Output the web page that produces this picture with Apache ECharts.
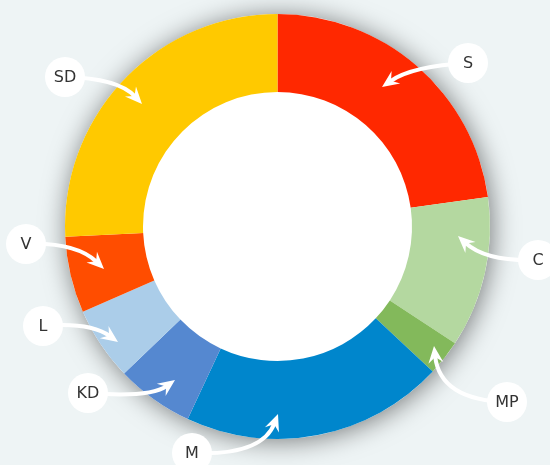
<!DOCTYPE html>
<html>
<head>
  <meta charset="UTF-8">
  <title>party donut</title>
  <style>
    html, body { margin: 0; padding: 0; background: #eef4f5; }
    #main { width: 550px; height: 465px; }
  </style>
  <script src="https://cdn.jsdelivr.net/npm/echarts@6/dist/echarts.min.js"></script>
</head>
<body>
<div id="main"></div>
<script>
const parties = ['S', 'C', 'MP', 'M', 'KD', 'L', 'V', 'SD'];
const shares = [22.8, 11.5, 2.7, 20.0, 5.9, 5.6, 5.8, 25.8];

const partyColors = ['#ff2800', '#b4d8a0', '#83b95b', '#0086cc', '#5588d0', '#abcde9', '#ff4d00', '#ffc900'];

// callout bubbles + arrows (label centre, control point, arrow tip)
const callouts = [
  { name: 'S',  at: [468, 63],  ctrl: [412, 66],  tip: [382, 87] },
  { name: 'C',  at: [538, 260], ctrl: [486, 262], tip: [458, 236] },
  { name: 'MP', at: [507, 402], ctrl: [440, 400], tip: [434, 346] },
  { name: 'M',  at: [192, 453], ctrl: [262, 456], tip: [278, 414] },
  { name: 'KD', at: [88, 393],  ctrl: [150, 398], tip: [175, 380] },
  { name: 'L',  at: [43, 326],  ctrl: [90, 322],  tip: [118, 342] },
  { name: 'V',  at: [26, 244],  ctrl: [76, 242],  tip: [104, 269] },
  { name: 'SD', at: [65, 77],   ctrl: [118, 78],  tip: [142, 104] }
];

var chart = echarts.init(document.getElementById('main'));

function calloutGraphics() {
  var els = [];
  callouts.forEach(function (c) {
    var dx = c.tip[0] - c.ctrl[0], dy = c.tip[1] - c.ctrl[1];
    var len = Math.sqrt(dx * dx + dy * dy);
    var ux = dx / len, uy = dy / len;
    var px = -uy, py = ux;
    var headLen = 17, headW = 7.5, notch = 11;
    var endX = c.tip[0] - ux * (notch - 1), endY = c.tip[1] - uy * (notch - 1);
    els.push({
      type: 'bezierCurve',
      silent: true,
      z: 100,
      shape: { x1: c.at[0], y1: c.at[1], cpx1: c.ctrl[0], cpy1: c.ctrl[1], x2: endX, y2: endY },
      style: { stroke: '#fff', lineWidth: 4, fill: null }
    });
    var bx = c.tip[0] - ux * headLen, by = c.tip[1] - uy * headLen;
    els.push({
      type: 'polygon',
      silent: true,
      z: 100,
      shape: {
        points: [
          [c.tip[0], c.tip[1]],
          [bx + px * headW, by + py * headW],
          [c.tip[0] - ux * notch, c.tip[1] - uy * notch],
          [bx - px * headW, by - py * headW]
        ]
      },
      style: { fill: '#fff' }
    });
    els.push({
      type: 'circle',
      silent: true,
      z: 101,
      shape: { cx: c.at[0], cy: c.at[1], r: 20 },
      style: { fill: '#fff' }
    });
    els.push({
      type: 'text',
      silent: true,
      z: 102,
      x: c.at[0],
      y: c.at[1] + 1,
      style: {
        text: c.name,
        fill: '#333',
        font: '16px "DejaVu Sans", sans-serif',
        align: 'center',
        verticalAlign: 'middle'
      }
    });
  });
  return els;
}

var option = {
  backgroundColor: '#eef4f5',
  animation: false,
  series: [
    {
      // white disc carrying the drop shadow
      type: 'pie',
      silent: true,
      center: [277.5, 226.5],
      radius: [0, 212.5],
      label: { show: false },
      labelLine: { show: false },
      itemStyle: {
        color: '#fff',
        shadowBlur: 26,
        shadowColor: 'rgba(0, 0, 0, 0.5)',
        shadowOffsetX: 2,
        shadowOffsetY: 2
      },
      data: [{ value: 1, name: 'bg' }]
    },
    {
      type: 'pie',
      silent: true,
      center: [277.5, 226.5],
      radius: [134.5, 212.5],
      startAngle: 90,
      clockwise: true,
      avoidLabelOverlap: false,
      label: { show: false },
      labelLine: { show: false },
      itemStyle: { borderWidth: 0 },
      data: parties.map(function (p, i) {
        return { name: p, value: shares[i], itemStyle: { color: partyColors[i] } };
      })
    }
  ],
  graphic: calloutGraphics()
};
chart.setOption(option);
</script>
</body>
</html>
